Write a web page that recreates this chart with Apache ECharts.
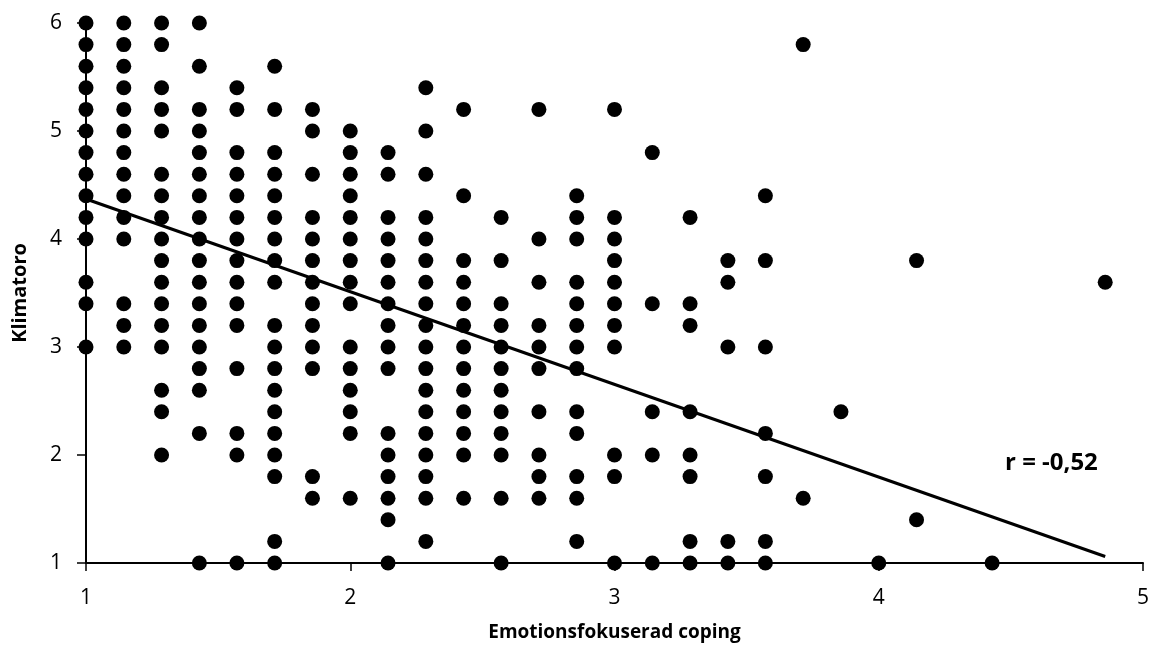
<!DOCTYPE html>
<html>
<head>
<meta charset="UTF-8">
<title>Klimatoro</title>
<style>
  html, body { margin: 0; padding: 0; background: #fff; }
  #chart { width: 1153px; height: 655px; }
</style>
</head>
<body>
<div id="chart"></div>
<script src="https://cdn.jsdelivr.net/npm/echarts@6/dist/echarts.min.js"></script>
<script>
// x positions of the point columns (Emotionsfokuserad coping)
var xCols = [1, 1.143, 1.286, 1.429, 1.571, 1.714, 1.857, 2, 2.143, 2.286, 2.429, 2.571,
  2.714, 2.857, 3, 3.143, 3.286, 3.429, 3.571, 3.714, 3.857, 4, 4.143, 4.429, 4.857];

// Klimatoro values seen in each column
var yCols = [
  [6, 5.8, 5.6, 5.4, 5.2, 5, 4.8, 4.6, 4.4, 4.2, 4, 3.6, 3.4, 3],
  [6, 5.8, 5.6, 5.4, 5.2, 5, 4.8, 4.6, 4.4, 4.2, 4, 3.4, 3.2, 3],
  [6, 5.8, 5.4, 5.2, 5, 4.6, 4.4, 4.2, 4, 3.8, 3.6, 3.4, 3.2, 3, 2.6, 2.4, 2],
  [6, 5.6, 5.2, 5, 4.8, 4.6, 4.4, 4.2, 4, 3.8, 3.6, 3.4, 3.2, 3, 2.8, 2.6, 2.2, 1],
  [5.4, 5.2, 4.8, 4.6, 4.4, 4.2, 4, 3.8, 3.6, 3.4, 3.2, 2.8, 2.2, 2, 1],
  [5.6, 5.2, 4.8, 4.6, 4.4, 4.2, 4, 3.8, 3.6, 3.2, 3, 2.8, 2.6, 2.4, 2.2, 2, 1.8, 1.2, 1],
  [5.2, 5, 4.6, 4.2, 4, 3.8, 3.6, 3.4, 3.2, 3, 2.8, 1.8, 1.6],
  [5, 4.8, 4.6, 4.4, 4.2, 4, 3.8, 3.6, 3.4, 3, 2.8, 2.6, 2.4, 2.2, 1.6],
  [4.8, 4.6, 4.2, 4, 3.8, 3.6, 3.4, 3.2, 3, 2.8, 2.2, 2, 1.8, 1.6, 1.4, 1],
  [5.4, 5, 4.6, 4.2, 4, 3.8, 3.6, 3.4, 3.2, 3, 2.8, 2.6, 2.4, 2.2, 2, 1.8, 1.6, 1.2],
  [5.2, 4.4, 3.8, 3.6, 3.4, 3.2, 3, 2.8, 2.6, 2.4, 2.2, 2, 1.6],
  [4.2, 3.8, 3.4, 3.2, 3, 2.8, 2.6, 2.4, 2.2, 2, 1.6, 1],
  [5.2, 4, 3.6, 3.2, 3, 2.8, 2.4, 2, 1.8, 1.6],
  [4.4, 4.2, 4, 3.6, 3.4, 3.2, 3, 2.8, 2.4, 2.2, 1.8, 1.6, 1.2],
  [5.2, 4.2, 4, 3.8, 3.6, 3.4, 3.2, 3, 2, 1.8, 1],
  [4.8, 3.4, 2.4, 2, 1],
  [4.2, 3.4, 3.2, 2.4, 2, 1.8, 1.2, 1],
  [3.8, 3.6, 3, 1.2, 1],
  [4.4, 3.8, 3, 2.2, 1.8, 1.2, 1],
  [5.8, 1.6],
  [2.4],
  [1],
  [3.8, 1.4],
  [1],
  [3.6]
];

// trend line end points
var lineX = [1, 4.857];
var lineY = [4.37, 1.06];

var xTicks = [1, 2, 3, 4, 5];
var yTicks = [1, 2, 3, 4, 5, 6];

var points = [];
for (var i = 0; i < xCols.length; i++) {
  for (var j = 0; j < yCols[i].length; j++) {
    points.push([xCols[i], yCols[i][j]]);
  }
}
var trend = [[lineX[0], lineY[0]], [lineX[1], lineY[1]]];

var font = 'Open Sans';
var myChart = echarts.init(document.getElementById('chart'));
myChart.setOption({
  animation: false,
  backgroundColor: '#fff',
  grid: { left: 86, right: 10, top: 23, bottom: 92 },
  xAxis: {
    type: 'value',
    min: xTicks[0], max: xTicks[xTicks.length - 1], interval: 1,
    name: 'Emotionsfokuserad coping',
    nameLocation: 'middle', nameGap: 60,
    nameTextStyle: { fontFamily: font, fontWeight: 'bold', fontSize: 19, color: '#000' },
    axisLine: { lineStyle: { color: '#000', width: 2 } },
    axisTick: { show: true, length: 8, lineStyle: { color: '#000', width: 1.5 } },
    axisLabel: { fontFamily: font, fontSize: 21, color: '#000', margin: 25 },
    splitLine: { show: false }
  },
  yAxis: {
    type: 'value',
    min: yTicks[0], max: yTicks[yTicks.length - 1], interval: 1,
    name: 'Klimatoro',
    nameLocation: 'middle', nameGap: 56, nameRotate: 90,
    nameTextStyle: { fontFamily: font, fontWeight: 'bold', fontSize: 20, color: '#000' },
    axisLine: { show: true, lineStyle: { color: '#000', width: 2 } },
    axisTick: { show: true, length: 9, lineStyle: { color: '#000', width: 1.5 } },
    axisLabel: { fontFamily: font, fontSize: 21, color: '#000', margin: 24 },
    splitLine: { show: false }
  },
  series: [{
    type: 'scatter',
    data: points,
    symbol: 'circle',
    symbolSize: 15,
    itemStyle: { color: '#000', opacity: 1 },
    z: 2
  }, {
    type: 'line',
    data: trend,
    symbol: 'none',
    lineStyle: { color: '#000', width: 3 },
    z: 3
  }],
  graphic: [{
    type: 'text',
    x: 1005, y: 463,
    style: {
      text: 'r = -0,52', fontFamily: font, fontWeight: 'bold', fontSize: 24,
      fill: '#000', verticalAlign: 'middle'
    }
  }]
});
</script>
</body>
</html>
